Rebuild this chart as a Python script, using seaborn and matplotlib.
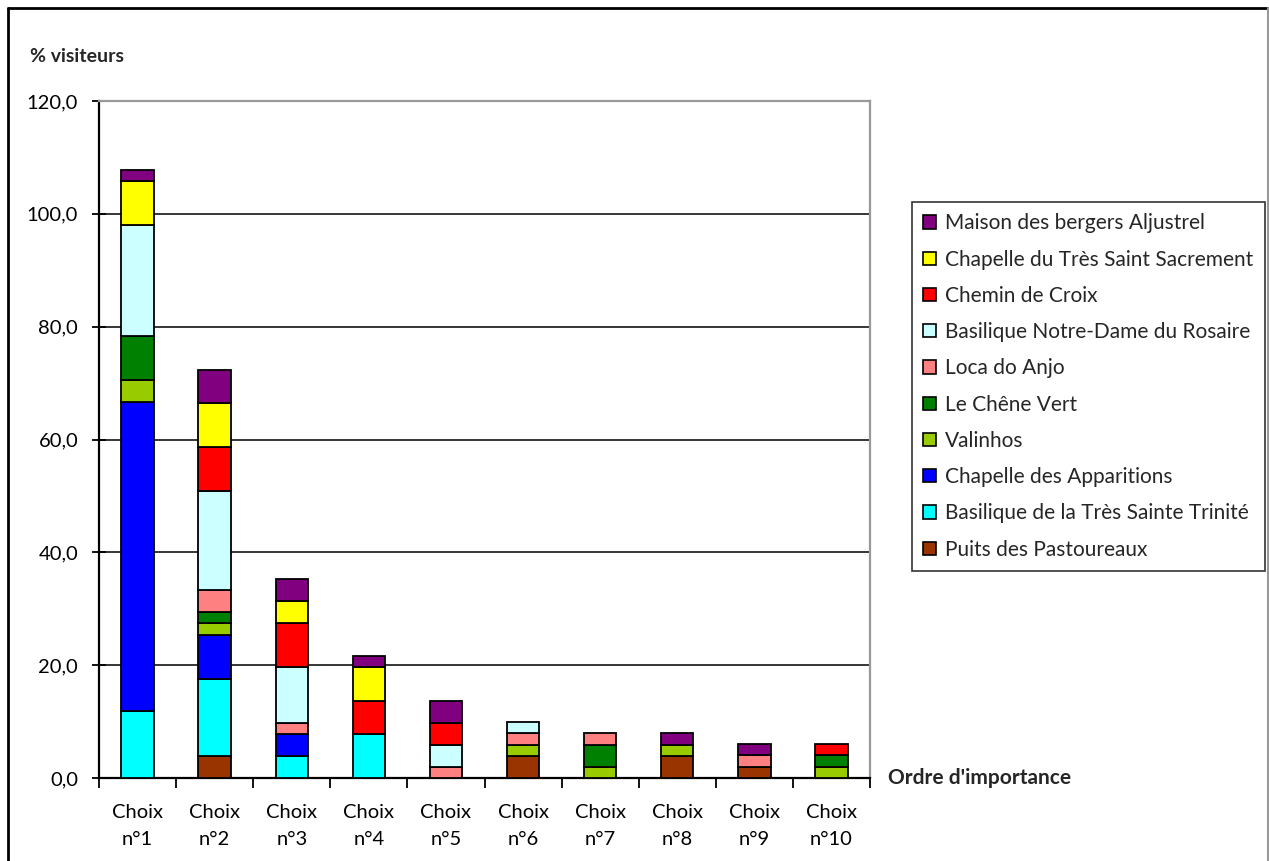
import matplotlib
matplotlib.use("Agg")
import matplotlib.pyplot as plt
from matplotlib.patches import Patch
from matplotlib.ticker import FuncFormatter, FixedLocator
import numpy as np
import pandas as pd
import seaborn as sns

# Choice rank (1 = first choice)
choices = [1, 2, 3, 4, 5, 6, 7, 8, 9, 10]
choice_labels = ["Choix\nn°%d" % c for c in choices]

# Share of visitors (%) per site, for each choice rank
puits_pastoureaux   = [0.0, 3.9, 0.0, 0.0, 0.0, 3.9, 0.0, 3.9, 2.0, 0.0]
basilique_trinite   = [11.8, 13.7, 3.9, 7.8, 0.0, 0.0, 0.0, 0.0, 0.0, 0.0]
chapelle_apparitions = [54.9, 7.8, 3.9, 0.0, 0.0, 0.0, 0.0, 0.0, 0.0, 0.0]
valinhos            = [3.9, 2.0, 0.0, 0.0, 0.0, 2.0, 2.0, 2.0, 0.0, 2.0]
chene_vert          = [7.8, 2.0, 0.0, 0.0, 0.0, 0.0, 3.9, 0.0, 0.0, 2.0]
loca_do_anjo        = [0.0, 3.9, 2.0, 0.0, 2.0, 2.0, 2.0, 0.0, 2.0, 0.0]
basilique_rosaire   = [19.6, 17.6, 9.8, 0.0, 3.9, 2.0, 0.0, 0.0, 0.0, 0.0]
chemin_croix        = [0.0, 7.8, 7.8, 5.9, 3.9, 0.0, 0.0, 0.0, 0.0, 2.0]
chapelle_sacrement  = [7.8, 7.8, 3.9, 5.9, 0.0, 0.0, 0.0, 0.0, 0.0, 0.0]
maison_bergers      = [2.0, 5.9, 3.9, 2.0, 3.9, 0.0, 0.0, 2.0, 2.0, 0.0]

# Sites, bottom of the stack first
sites = [
    "Puits des Pastoureaux",
    "Basilique de la Très Sainte Trinité",
    "Chapelle des Apparitions",
    "Valinhos",
    "Le Chêne Vert",
    "Loca do Anjo",
    "Basilique Notre-Dame du Rosaire",
    "Chemin de Croix",
    "Chapelle du Très Saint Sacrement",
    "Maison des bergers Aljustrel",
]
series = [puits_pastoureaux, basilique_trinite, chapelle_apparitions, valinhos,
          chene_vert, loca_do_anjo, basilique_rosaire, chemin_croix,
          chapelle_sacrement, maison_bergers]
colors = ["#993300", "#00FFFF", "#0000FF", "#99CC00", "#008000",
          "#FF8080", "#CCFFFF", "#FF0000", "#FFFF00", "#800080"]

rows = []
for site, vals in zip(sites, series):
    for c, v in zip(choices, vals):
        rows.append({"choix": c, "site": site, "pct": v})
df = pd.DataFrame(rows)

sns.set_style("white")
plt.rcParams["font.family"] = ["Lato", "DejaVu Sans"]

FS = 14.5

fig = plt.figure(figsize=(12.69, 8.61), dpi=100)
ax = fig.add_axes([99 / 1269, 83 / 861, 771 / 1269, 677 / 861])

# Stacked bars: seaborn stacks the last hue level at the bottom
hue_order = sites[::-1]
palette = dict(zip(sites, colors))
sns.histplot(data=df, x="choix", weights="pct", hue="site", hue_order=hue_order,
             palette=palette, multiple="stack", discrete=True, shrink=0.42,
             alpha=1, edgecolor="black", linewidth=1.3, legend=False, ax=ax,
             zorder=3)
for p in ax.patches:
    if p.get_height() <= 0:
        p.set_visible(False)

ax.set_xlim(0.5, 10.5)
ax.set_ylim(0, 120)
ax.set_yticks(np.arange(0, 121, 20))
ax.yaxis.set_major_formatter(FuncFormatter(lambda v, _: ("%.1f" % v).replace(".", ",")))
ax.yaxis.grid(True, color="black", linewidth=1.1, zorder=0)
ax.set_axisbelow(True)

ax.set_xticks(choices)
ax.set_xticklabels(choice_labels, linespacing=1.7)
ax.xaxis.set_minor_locator(FixedLocator(np.arange(0.5, 10.6, 1)))
ax.tick_params(axis="x", which="major", length=0, pad=19, labelsize=FS, colors="black")
ax.tick_params(axis="x", which="minor", length=7, width=1.3, direction="out", color="black",
               bottom=True)
ax.tick_params(axis="y", which="major", length=10, width=1.3, direction="inout",
               pad=10, labelsize=FS, colors="black", left=True)
ax.set_xlabel("")
ax.set_ylabel("")

for s in ["left", "bottom"]:
    ax.spines[s].set_color("black")
    ax.spines[s].set_linewidth(1.6)
for s in ["top", "right"]:
    ax.spines[s].set_color("#999999")
    ax.spines[s].set_linewidth(1.6)

fig.text(30 / 1269, 1 - 57 / 861, "% visiteurs", fontsize=14, fontweight="bold",
         va="center", ha="left")
fig.text(888 / 1269, 1 - 778 / 861, "Ordre d'importance", fontsize=15, fontweight="bold",
         va="center", ha="left")

handles = [Patch(facecolor=palette[s], edgecolor="black", linewidth=1.2) for s in hue_order]
leg = fig.legend(handles, hue_order, loc="upper left",
                 bbox_to_anchor=(912 / 1269, 1 - 202 / 861),
                 frameon=True, fancybox=False, edgecolor="black", fontsize=15,
                 handlelength=0.6, handleheight=0.6, handletextpad=0.45,
                 labelspacing=0.78, borderpad=0.55, borderaxespad=0)
leg.get_frame().set_linewidth(1.2)

# Outer chart frame
fig.add_artist(plt.Line2D([8 / 1269, 8 / 1269], [0, 1 - 8 / 861], transform=fig.transFigure,
                          color="black", linewidth=2))
fig.add_artist(plt.Line2D([8 / 1269, 1], [1 - 8 / 861, 1 - 8 / 861], transform=fig.transFigure,
                          color="black", linewidth=2))
fig.add_artist(plt.Line2D([1267.5 / 1269, 1267.5 / 1269], [0, 1 - 8 / 861],
                          transform=fig.transFigure, color="#999999", linewidth=1.5))

fig.savefig("out.png", dpi=100)
